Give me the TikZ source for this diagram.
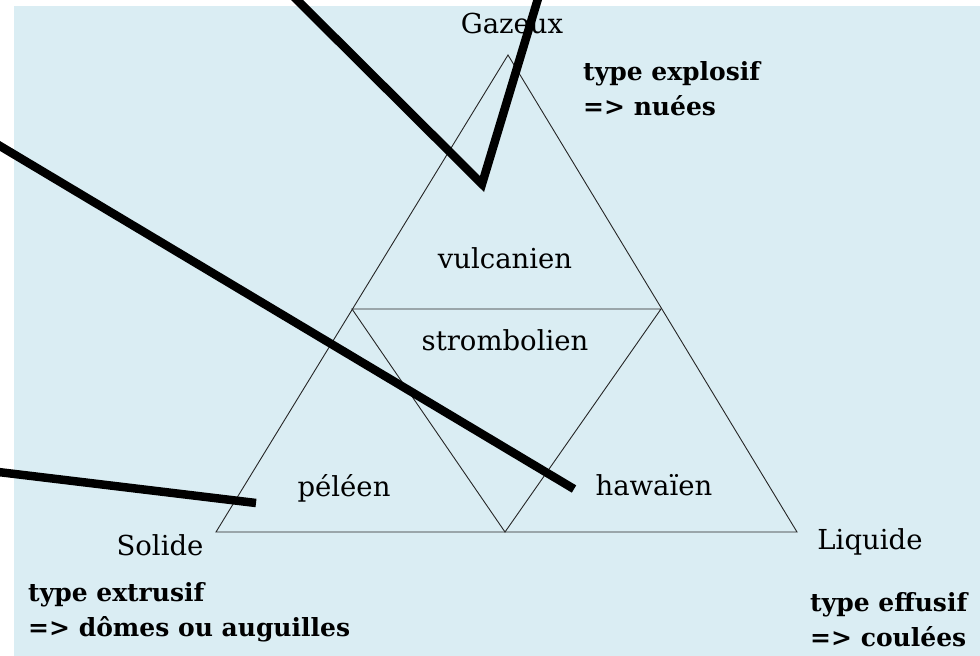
\documentclass[tikz,border=0pt]{standalone}
\usepackage{fontspec}
\setmainfont{DejaVu Serif}
\usetikzlibrary{positioning}
\definecolor{bgc}{HTML}{DAEDF3}
\definecolor{edgec}{HTML}{262626}
\tikzset{
  side/.style={edgec, line width=0.9pt},
  ptr/.style={black, line width=8.5pt, line join=miter},
  lab/.style={font=\fontsize{27.5}{32}\selectfont, inner sep=0pt},
  typ/.style={font=\fontsize{25}{35}\selectfont\bfseries, align=left, inner sep=0pt, anchor=west},
}

\begin{document}
\begin{tikzpicture}[x=1pt,y=-1pt]
  \useasboundingbox (0,0) rectangle (980,656);
  \fill[bgc] (14,6) rectangle (980,656);
  \coordinate (G) at (508,55);
  \coordinate (S) at (216,532);
  \coordinate (L) at (797,532);
  \coordinate (gs) at (352,309);
  \coordinate (gl) at (661,309);
  \coordinate (sl) at (505,532);
  \draw[side] (G) -- (S) -- (L) -- cycle;
  \draw[side] (gs) -- (gl) -- (sl) -- cycle;
  \node[lab] (gaz) at (512,23) {Gazeux};
  \node[lab] (sol) at (160,545) {Solide};
  \node[lab] (liq) at (870,542) {Liquide};
  \node[lab] (vul) at (505,258) {vulcanien};
  \node[lab] (str) at (505,340) {strombolien};
  \node[lab] (pel) at (344,488) {péléen};
  \node[lab] (haw) at (654,485) {hawaïen};
  \node[typ] (expl) at (583,89) {type explosif\\=> nuées};
  \node[typ] (extr) at (28,612) {type extrusif\\=> dômes ou auguilles};
  \node[typ] (effu) at (810,620) {type effusif\\=> coulées};
  \coordinate (v0) at (289,-8);
  \coordinate (v1) at (482,184);
  \coordinate (v2) at (540,-8);
  \coordinate (h0) at (-10,140);
  \coordinate (h1) at (574,489);
  \coordinate (e0) at (-10,471);
  \coordinate (e1) at (256,503);
  \draw[ptr] (v0) -- (v1) -- (v2);
  \draw[ptr] (h0) -- (h1);
  \draw[ptr] (e0) -- (e1);
\end{tikzpicture}
\end{document}
